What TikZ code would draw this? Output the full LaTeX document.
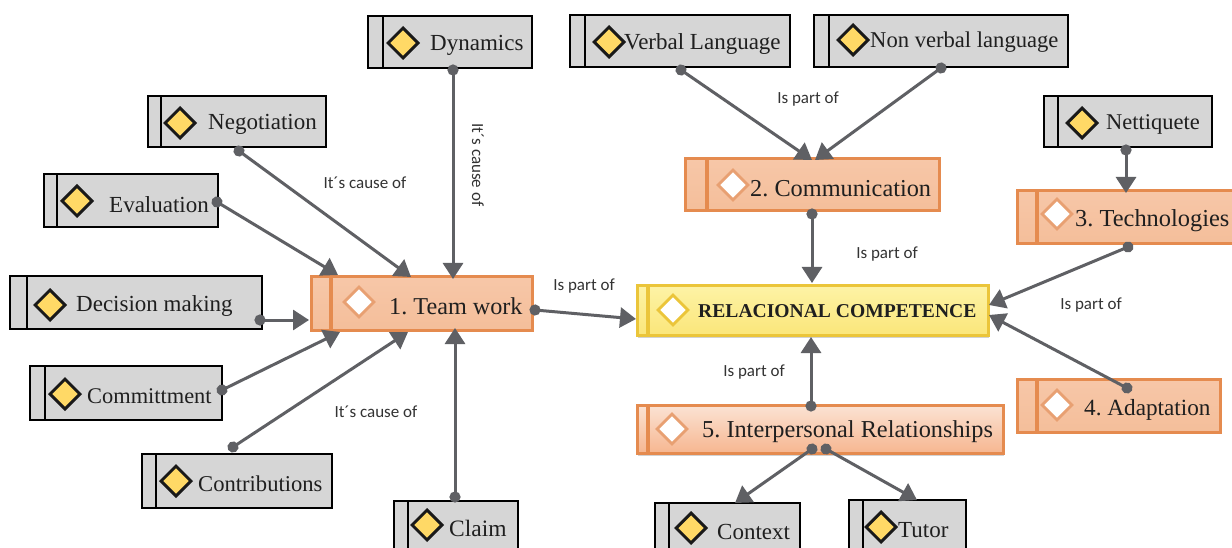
\documentclass[tikz,border=0pt]{standalone}
\usepackage{fontspec}
\setmainfont{Liberation Serif}
\newfontfamily\lblfont{Carlito}
\usetikzlibrary{arrows.meta,shapes.geometric,shadows}
\frenchspacing
\definecolor{cgray}{HTML}{D6D6D6}
\definecolor{cline}{HTML}{5F6064}
\definecolor{cor}{HTML}{E58B4F}
\definecolor{cyl}{HTML}{EBC53A}
\definecolor{F1}{HTML}{F7C7A8}
\definecolor{F2}{HTML}{F4BE9A}
\definecolor{Y1}{HTML}{FDF3A6}
\definecolor{Y2}{HTML}{FBE67A}
\definecolor{I1}{HTML}{FBE3D4}
\definecolor{I2}{HTML}{F6B690}
\definecolor{DY}{HTML}{FFD966}
\definecolor{DO}{HTML}{E8A072}
\tikzset{
  x=1pt,y=-1pt,
  boxbase/.style={rectangle,inner sep=0pt,outer sep=0pt},
  graybox/.style={boxbase,draw=black,line width=2.8pt,fill=cgray},
  orbox/.style={boxbase,draw=cor,line width=3pt,top color=F1,bottom color=F2},
  ylbox/.style={boxbase,draw=cyl,line width=3pt,top color=Y1,bottom color=Y2,drop shadow={shadow xshift=1pt,shadow yshift=-3pt,fill=black!35}},
  intbox/.style={boxbase,draw=cor,line width=3pt,top color=I1,bottom color=I2,drop shadow={shadow xshift=1pt,shadow yshift=-3pt,fill=black!35}},
  gbar/.style={line width=2.8pt,draw=black},
  obar/.style={line width=4pt,draw=cor},
  ybar/.style={line width=4pt,draw=cyl},
  gdia/.style={diamond,aspect=1,inner sep=0pt,minimum size=31pt,draw=black!90,line width=3pt,fill=DY},
  odia/.style={diamond,aspect=1,inner sep=0pt,minimum size=31pt,draw=DO,line width=2.8pt,fill=white},
  ydia/.style={diamond,aspect=1,inner sep=0pt,minimum size=31pt,draw=cyl,line width=2.8pt,fill=white},
  txt/.style={anchor=west,inner sep=0pt,text=black!88,yshift=-2.5pt},
  conn/.style={draw=cline,line width=3pt,shorten <=-5.5pt,{Circle[length=11pt,width=11pt]}-{Triangle[length=16pt,width=20pt]}},
  lbl/.style={font=\lblfont\fontsize{17}{18}\selectfont,text=black!80,inner sep=0pt}
}
% style, name, x0, y0, x1, y1
\newcommand\mybox[6]{%
  \pgfmathsetmacro\myw{#5-#3}\pgfmathsetmacro\myh{#6-#4}%
  \pgfmathsetmacro\mycx{(#3+#5)/2}\pgfmathsetmacro\mycy{(#4+#6)/2}%
  \node[#1,minimum width=\myw pt,minimum height=\myh pt] (#2) at (\mycx,\mycy) {};}
% bar style, box name, bar offset
\newcommand\mybar[3]{\draw[#1] ([xshift=#3pt]#2.north west) -- ([xshift=#3pt]#2.south west);}
% diamond style, name, x, y
\newcommand\mydia[4]{\node[#1] (#2-d) at (#3,#4) {};}
% name, x, y, size, text
\newcommand\mytxt[5]{\node[txt,font=\fontsize{#4}{#4}\selectfont] (#1-t) at (#2,#3) {#5};}
\begin{document}
\begin{tikzpicture}
\useasboundingbox (0,0) rectangle (1232,548);
\clip (0,0) rectangle (1232,548);
\fill[white] (0,0) rectangle (1232,548);
% gray boxes
\mybox{graybox}{dyn}{368}{16}{532}{68}\mybar{gbar}{dyn}{15}\mydia{gdia}{dyn}{403}{43}\mytxt{dyn}{430}{43}{23}{Dynamics}
\mybox{graybox}{neg}{148}{96}{326}{147}\mybar{gbar}{neg}{13}\mydia{gdia}{neg}{180}{123}\mytxt{neg}{208}{122}{23}{Negotiation}
\mybox{graybox}{eva}{44}{174}{218}{227}\mybar{gbar}{eva}{13}\mydia{gdia}{eva}{77}{201}\mytxt{eva}{109}{202}{23}{Evaluation}
\mybox{graybox}{dec}{10}{276}{262}{329}\mybar{gbar}{dec}{17}\mydia{gdia}{dec}{50}{305}\mytxt{dec}{76}{304}{23}{Decision making}
\mybox{graybox}{com}{30}{366}{222}{420}\mybar{gbar}{com}{15}\mydia{gdia}{com}{65}{394}\mytxt{com}{87}{394}{22.4}{Committment}
\mybox{graybox}{con}{142}{454}{332}{508}\mybar{gbar}{con}{14}\mydia{gdia}{con}{176}{481}\mytxt{con}{198}{481}{22.6}{Contributions}
\mybox{graybox}{cla}{394}{501}{518}{552}\mybar{gbar}{cla}{14}\mydia{gdia}{cla}{427}{525}\mytxt{cla}{449}{526}{23.5}{Claim}
\mybox{graybox}{ver}{570}{15}{790}{67}\mybar{gbar}{ver}{15}\mydia{gdia}{ver}{609}{42}\mytxt{ver}{624}{42}{23}{Verbal Language}
\mybox{graybox}{non}{814}{15}{1068}{67}\mybar{gbar}{non}{15}\mydia{gdia}{non}{853}{40}\mytxt{non}{870}{40}{22.6}{Non verbal language}
\mybox{graybox}{net}{1044}{96}{1212}{147}\mybar{gbar}{net}{14}\mydia{gdia}{net}{1082}{123}\mytxt{net}{1106}{122}{22.5}{Nettiquete}
\mybox{graybox}{ctx}{655}{503}{800}{552}\mybar{gbar}{ctx}{14}\mydia{gdia}{ctx}{691}{528}\mytxt{ctx}{717}{529}{23}{Context}
\mybox{graybox}{tut}{849}{500}{966}{552}\mybar{gbar}{tut}{14}\mydia{gdia}{tut}{881}{527}\mytxt{tut}{898}{528}{23}{Tutor}
% orange boxes
\mybox{orbox}{tw}{311}{277}{532}{330}\mybar{obar}{tw}{20}\mydia{odia}{tw}{359}{302}\mytxt{tw}{389}{304}{24.2}{1. Team work}
\mybox{orbox}{cm}{685}{159}{939}{211}\mybar{obar}{cm}{22}\mydia{odia}{cm}{733}{185}\mytxt{cm}{750}{186}{24.3}{2. Communication}
\mybox{orbox}{tec}{1017}{191}{1235}{244}\mybar{obar}{tec}{20}\mydia{odia}{tec}{1057}{214}\mytxt{tec}{1075}{218}{24.4}{3. Technologies}
\mybox{orbox}{ada}{1017}{379}{1220}{432}\mybar{obar}{ada}{20}\mydia{odia}{ada}{1057}{405}\mytxt{ada}{1084}{407}{23.2}{4. Adaptation}
\mybox{intbox}{int}{637}{405}{1003}{453}\mybar{obar}{int}{11}\mydia{odia}{int}{672}{429}\mytxt{int}{702}{429}{24.3}{5. Interpersonal Relationships}
\mybox{ylbox}{rel}{637}{285}{988}{335}\mybar{ybar}{rel}{11}\mydia{ydia}{rel}{673}{310}\mytxt{rel}{698}{309}{19.6}{\textbf{RELACIONAL COMPETENCE}}
% connectors
\draw[conn] ([xshift=3pt,yshift=-2pt]dyn.south) -- ([xshift=31.5pt,yshift=-2pt]tw.north);
\draw[conn] ([xshift=-87pt,yshift=-4pt]neg.south east) -- ([xshift=100pt]tw.north west);
\draw[conn] ([xshift=-1pt,yshift=-1.5pt]eva.east) -- ([xshift=27pt,yshift=2pt]tw.north west);
\draw[conn] ([xshift=-2pt,yshift=-17.5pt]dec.east) -- ([xshift=-2pt,yshift=-16.5pt]tw.west);
\draw[conn] ([yshift=3pt]com.east) -- ([xshift=29pt,yshift=-2pt]tw.south west);
\draw[conn] ([xshift=91pt,yshift=7pt]con.north west) -- ([xshift=97pt,yshift=-2pt]tw.south west);
\draw[conn] ([xshift=61pt,yshift=4pt]cla.north west) -- ([xshift=144pt,yshift=2pt]tw.south west);
\draw[conn] ([xshift=3pt,yshift=-6.5pt]tw.east) -- ([xshift=-1pt,yshift=-9pt]rel.west);
\draw[conn] ([xshift=111pt,yshift=-3pt]ver.south west) -- ([xshift=127pt,yshift=-1pt]cm.north west);
\draw[conn] ([xshift=127pt,yshift=-1pt]non.south west) -- ([xshift=130pt,yshift=-1pt]cm.north west);
\draw[conn] ([xshift=82pt,yshift=-3pt]net.south west) -- ([xshift=109pt,yshift=-2pt]tec.north west);
\draw[conn] ([xshift=127pt,yshift=-3pt]cm.south west) -- ([xshift=175pt,yshift=2pt]rel.north west);
\draw[conn] ([xshift=111pt,yshift=-3pt]tec.south west) -- ([xshift=1pt,yshift=5pt]rel.east);
\draw[conn] ([xshift=110pt,yshift=-9pt]ada.north west) -- ([xshift=1pt,yshift=-5pt]rel.east);
\draw[conn] ([xshift=174pt,yshift=-1pt]int.north west) -- ([xshift=174pt,yshift=-2pt]rel.south west);
\draw[conn] ([xshift=175pt,yshift=4pt]int.south west) -- ([xshift=80pt]ctx.north west);
\draw[conn] ([xshift=189pt,yshift=4pt]int.south west) -- ([xshift=68pt]tut.north west);
% labels
\node[lbl] (l1) at (365,183) {It´s cause of};
\node[lbl,rotate=-90] (l2) at (478,165) {It´s cause of};
\node[lbl] (l3) at (376,412) {It´s cause of};
\node[lbl] (l4) at (584,286) {Is part of};
\node[lbl] (l5) at (808,99) {Is part of};
\node[lbl] (l6) at (887,254) {Is part of};
\node[lbl] (l7) at (1091,305) {Is part of};
\node[lbl] (l8) at (754,372) {Is part of};
\end{tikzpicture}
\end{document}
